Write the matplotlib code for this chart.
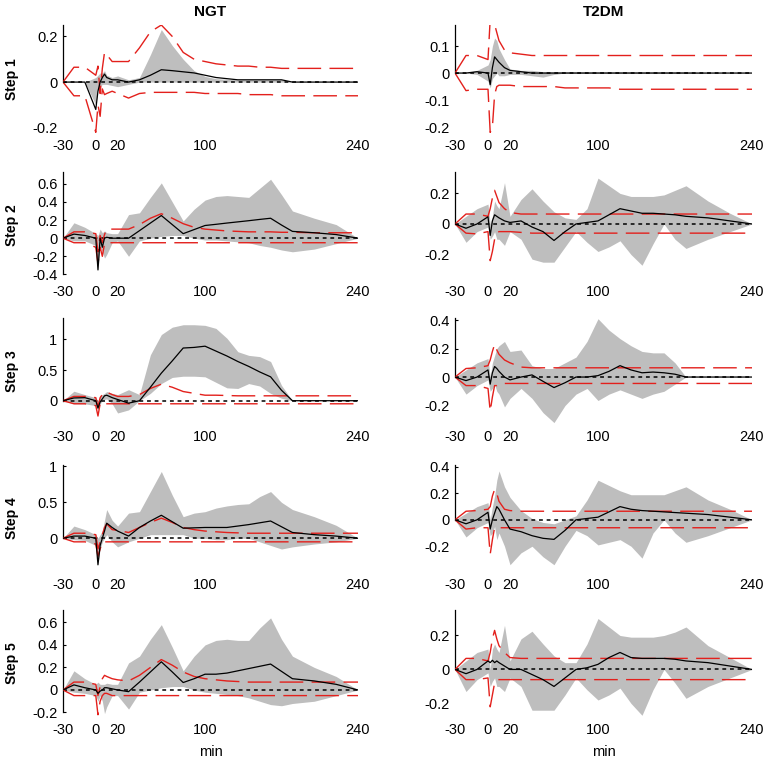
import matplotlib
matplotlib.use("Agg")
import matplotlib.pyplot as plt

# time points (min)
t = [-30, -20, -10, 0, 2, 4, 6, 8, 10, 15, 20, 30, 40, 50, 60, 70, 80, 90,
     100, 110, 120, 130, 140, 150, 160, 170, 180, 200, 220, 240]

# ---- NGT ----
ngt1_mean = [0, 0, 0, -0.12, -0.04, 0.0, 0.02, 0.035, 0.02, 0.01, 0.01, 0.0, 0.01, 0.03, 0.054, 0.05, 0.045, 0.04,
             0.03, 0.02, 0.015, 0.01, 0.01, 0.01, 0.01, 0.01, 0.0, 0.0, 0.0, 0.0]
ngt1_hi = [0, 0, 0, 0.02, 0.03, 0.04, 0.04, 0.05, 0.03, 0.02, 0.027, 0.01, 0.02, 0.12, 0.23, 0.16, 0.1, 0.05,
           0.025, 0.015, 0.012, 0.01, 0.01, 0.01, 0.01, 0.01, 0.0, 0.0, 0.0, 0.0]
ngt1_lo = [0, 0, 0, -0.1, -0.03, -0.02, -0.01, -0.01, -0.01, -0.015, -0.02, -0.01, 0.0, 0.0, 0.0, 0.0, 0.0, 0.0,
           0.0, 0.0, 0.0, 0.0, 0.0, 0.0, 0.0, 0.0, 0.0, 0.0, 0.0, 0.0]
ngt1_rhi = [0, 0.065, 0.065, 0.03, 0.07, -0.05, 0.06, 0.13, 0.12, 0.09, 0.09, 0.09, 0.15, 0.22, 0.25, 0.2, 0.13, 0.1,
            0.09, 0.08, 0.075, 0.07, 0.07, 0.065, 0.065, 0.06, 0.06, 0.06, 0.06, 0.06]
ngt1_rlo = [0, -0.06, -0.06, -0.22, -0.1, -0.15, -0.03, -0.055, -0.05, -0.04, -0.05, -0.07, -0.05, -0.045, -0.045, -0.045, -0.045, -0.045,
            -0.05, -0.05, -0.05, -0.05, -0.055, -0.055, -0.055, -0.06, -0.06, -0.06, -0.06, -0.06]

ngt2_mean = [0, 0.045, 0.03, 0.0, -0.35, 0.0, -0.1, 0.0, 0.01, 0.0, 0.0, 0.0, 0.083, 0.167, 0.25, 0.15, 0.05, 0.095,
             0.14, 0.153, 0.167, 0.18, 0.193, 0.207, 0.22, 0.145, 0.075, 0.06, 0.04, 0.0]
ngt2_hi = [0, 0.17, 0.12, 0.05, 0.03, 0.1, 0.06, 0.08, 0.06, 0.05, 0.05, 0.26, 0.28, 0.45, 0.61, 0.4, 0.19, 0.32,
           0.42, 0.46, 0.47, 0.46, 0.45, 0.55, 0.65, 0.48, 0.3, 0.22, 0.15, 0.0]
ngt2_lo = [0, -0.03, -0.03, -0.08, -0.35, -0.1, -0.15, -0.22, -0.18, -0.05, -0.03, -0.2, -0.03, 0.0, 0.02, 0.03, 0.03, 0.0,
           -0.02, -0.02, -0.03, -0.04, -0.05, -0.08, -0.1, -0.13, -0.15, -0.12, -0.06, 0.0]
ngt2_rhi = [0, 0.07, 0.07, 0.05, -0.15, 0.03, -0.05, 0.04, 0.1, 0.1, 0.1, 0.1, 0.15, 0.22, 0.27, 0.22, 0.16, 0.12,
            0.1, 0.09, 0.08, 0.075, 0.07, 0.07, 0.07, 0.065, 0.065, 0.06, 0.06, 0.06]
ngt2_rlo = [0, -0.05, -0.05, -0.1, -0.28, -0.1, -0.2, -0.06, -0.05, -0.05, -0.05, -0.05, -0.05, -0.05, -0.05, -0.05, -0.05, -0.05,
            -0.05, -0.05, -0.05, -0.05, -0.05, -0.05, -0.05, -0.05, -0.05, -0.05, -0.05, -0.05]

ngt3_mean = [0, 0.045, 0.05, 0.0, -0.12, -0.02, 0.03, 0.08, 0.09, 0.05, 0.02, -0.04, 0.0, 0.22, 0.45, 0.65, 0.86, 0.87,
             0.89, 0.81, 0.73, 0.64, 0.56, 0.47, 0.39, 0.17, 0.0, 0.0, 0.0, 0.0]
ngt3_hi = [0, 0.155, 0.1, 0.05, 0.0, 0.08, 0.1, 0.12, 0.15, 0.12, 0.1, 0.18, 0.1, 0.75, 1.08, 1.2, 1.24, 1.24,
           1.23, 1.18, 1.02, 0.8, 0.74, 0.72, 0.64, 0.25, 0.0, 0.0, 0.0, 0.0]
ngt3_lo = [0, -0.05, -0.05, -0.08, -0.15, -0.05, 0.0, 0.02, 0.03, -0.05, -0.2, -0.15, 0.0, 0.12, 0.28, 0.38, 0.4, 0.4,
           0.39, 0.3, 0.21, 0.2, 0.28, 0.24, 0.12, 0.04, 0.0, 0.0, 0.0, 0.0]
ngt3_rhi = [0, 0.07, 0.07, 0.05, -0.1, 0.05, 0.1, 0.14, 0.14, 0.1, 0.07, 0.07, 0.1, 0.2, 0.27, 0.22, 0.15, 0.12,
            0.09, 0.09, 0.085, 0.08, 0.08, 0.08, 0.08, 0.08, 0.08, 0.08, 0.08, 0.08]
ngt3_rlo = [0, -0.05, -0.05, -0.08, -0.25, -0.05, -0.02, -0.05, -0.05, -0.05, -0.05, -0.05, -0.05, -0.05, -0.05, -0.05, -0.05, -0.05,
            -0.05, -0.05, -0.05, -0.05, -0.05, -0.05, -0.05, -0.05, -0.05, -0.05, -0.05, -0.05]

ngt4_mean = [0, 0.03, 0.03, 0.0, -0.37, -0.1, 0.0, 0.1, 0.21, 0.15, 0.1, 0.03, 0.15, 0.24, 0.32, 0.23, 0.14, 0.145,
             0.15, 0.15, 0.15, 0.17, 0.19, 0.215, 0.24, 0.16, 0.08, 0.05, 0.03, 0.0]
ngt4_hi = [0, 0.17, 0.12, 0.05, 0.0, 0.05, 0.1, 0.25, 0.4, 0.25, 0.17, 0.35, 0.37, 0.65, 0.93, 0.6, 0.3, 0.35,
           0.37, 0.42, 0.45, 0.47, 0.48, 0.58, 0.65, 0.5, 0.4, 0.3, 0.18, 0.0]
ngt4_lo = [0, -0.02, -0.03, -0.1, -0.35, -0.15, -0.05, 0.0, 0.05, -0.05, -0.12, -0.05, 0.0, 0.05, 0.05, 0.05, 0.05, 0.0,
           0.0, -0.02, -0.02, 0.0, 0.0, -0.05, -0.1, -0.15, -0.12, -0.08, -0.05, 0.0]
ngt4_rhi = [0, 0.07, 0.07, 0.05, -0.15, -0.05, 0.05, 0.15, 0.2, 0.12, 0.11, 0.08, 0.15, 0.22, 0.28, 0.22, 0.15, 0.12,
            0.1, 0.09, 0.08, 0.075, 0.07, 0.07, 0.07, 0.07, 0.07, 0.07, 0.07, 0.07]
ngt4_rlo = [0, -0.05, -0.05, -0.08, -0.25, -0.15, -0.05, -0.05, -0.05, -0.05, -0.05, -0.05, -0.05, -0.05, -0.05, -0.05, -0.05, -0.05,
            -0.05, -0.05, -0.05, -0.05, -0.05, -0.05, -0.05, -0.05, -0.05, -0.05, -0.05, -0.05]

ngt5_mean = [0, 0.045, 0.02, 0.0, -0.03, -0.01, 0.0, 0.02, 0.02, 0.01, 0.0, -0.015, 0.07, 0.16, 0.25, 0.16, 0.066, 0.1,
             0.14, 0.14, 0.15, 0.17, 0.19, 0.21, 0.23, 0.165, 0.1, 0.08, 0.05, 0.0]
ngt5_hi = [0, 0.17, 0.1, 0.05, 0.07, 0.05, 0.05, 0.05, 0.06, 0.05, 0.05, 0.24, 0.3, 0.45, 0.58, 0.38, 0.17, 0.3,
           0.4, 0.44, 0.45, 0.44, 0.44, 0.55, 0.64, 0.45, 0.3, 0.2, 0.12, 0.0]
ngt5_lo = [0, -0.02, -0.03, -0.05, -0.1, -0.05, -0.1, -0.21, -0.15, -0.05, -0.05, -0.17, -0.02, 0.0, 0.02, 0.03, 0.03, 0.0,
           -0.02, -0.03, -0.04, -0.05, -0.07, -0.1, -0.13, -0.14, -0.12, -0.1, -0.05, 0.0]
ngt5_rhi = [0, 0.07, 0.07, 0.05, -0.05, 0.03, 0.1, 0.13, 0.12, 0.1, 0.09, 0.08, 0.13, 0.2, 0.27, 0.22, 0.16, 0.12,
            0.1, 0.09, 0.08, 0.075, 0.07, 0.07, 0.07, 0.07, 0.07, 0.07, 0.07, 0.07]
ngt5_rlo = [0, -0.05, -0.05, -0.05, -0.22, -0.1, -0.05, -0.03, -0.03, -0.05, -0.05, -0.05, -0.05, -0.05, -0.05, -0.05, -0.05, -0.05,
            -0.05, -0.05, -0.05, -0.05, -0.05, -0.05, -0.05, -0.05, -0.05, -0.05, -0.05, -0.05]

# ---- T2DM ----
t2dm1_mean = [0, 0.0, 0.005, 0.0, -0.043, 0.02, 0.06, 0.05, 0.04, 0.02, 0.01, 0.005, 0.0, 0.0, 0.0, 0.0, 0.0, 0.0,
              0.0, 0.0, 0.0, 0.0, 0.0, 0.0, 0.0, 0.0, 0.0, 0.0, 0.0, 0.0]
t2dm1_hi = [0, 0.0, 0.01, 0.03, 0.05, 0.1, 0.13, 0.12, 0.09, 0.05, 0.015, 0.01, 0.01, 0.005, 0.005, 0.005, 0.005, 0.005,
            0.005, 0.005, 0.005, 0.005, 0.005, 0.005, 0.005, 0.005, 0.005, 0.0, 0.0, 0.0]
t2dm1_lo = [0, 0.0, -0.005, -0.03, -0.055, -0.02, -0.01, 0.0, -0.01, -0.01, -0.005, -0.005, -0.01, -0.015, -0.005, 0.0, 0.0, 0.0,
            0.0, 0.0, 0.0, 0.0, 0.0, 0.0, 0.0, 0.0, 0.0, 0.0, 0.0, 0.0]
t2dm1_rhi = [0, 0.065, 0.065, 0.05, 0.2, 0.2, 0.18, 0.15, 0.12, 0.085, 0.075, 0.07, 0.065, 0.065, 0.065, 0.065, 0.065, 0.065,
             0.065, 0.065, 0.065, 0.065, 0.065, 0.065, 0.065, 0.065, 0.065, 0.065, 0.065, 0.065]
t2dm1_rlo = [0, -0.065, -0.06, -0.06, -0.22, -0.2, -0.08, -0.05, -0.045, -0.045, -0.045, -0.05, -0.05, -0.05, -0.05, -0.055, -0.055, -0.055,
             -0.055, -0.055, -0.06, -0.06, -0.06, -0.06, -0.06, -0.06, -0.06, -0.06, -0.06, -0.06]

t2dm2_mean = [0, -0.028, 0.0, 0.047, -0.075, 0.02, 0.06, 0.05, 0.04, 0.02, 0.01, 0.02, -0.02, -0.05, -0.108, -0.05, 0.0, 0.01,
              0.02, 0.06, 0.1, 0.085, 0.07, 0.07, 0.065, 0.06, 0.05, 0.04, 0.02, 0.0]
t2dm2_hi = [0, 0.05, 0.1, 0.13, 0.0, 0.05, 0.15, 0.12, 0.1, 0.27, 0.05, 0.16, 0.23, 0.15, 0.08, 0.04, 0.03, 0.1,
            0.3, 0.25, 0.2, 0.18, 0.18, 0.18, 0.19, 0.22, 0.25, 0.15, 0.07, 0.0]
t2dm2_lo = [0, -0.12, -0.05, -0.02, -0.1, -0.08, -0.05, -0.1, -0.1, -0.14, -0.05, -0.1, -0.23, -0.25, -0.25, -0.15, -0.05, -0.12,
            -0.18, -0.15, -0.11, -0.2, -0.27, -0.13, 0.0, -0.1, -0.16, -0.1, -0.05, 0.0]
t2dm2_rhi = [0, 0.065, 0.065, 0.05, 0.1, 0.17, 0.22, 0.18, 0.14, 0.1, 0.075, 0.065, 0.065, 0.065, 0.065, 0.065, 0.065, 0.065,
             0.065, 0.065, 0.065, 0.065, 0.065, 0.065, 0.065, 0.065, 0.065, 0.065, 0.065, 0.065]
t2dm2_rlo = [0, -0.06, -0.065, -0.05, -0.24, -0.18, -0.1, -0.06, -0.05, -0.05, -0.05, -0.055, -0.06, -0.06, -0.06, -0.06, -0.06, -0.06,
             -0.06, -0.06, -0.06, -0.06, -0.06, -0.06, -0.06, -0.06, -0.06, -0.06, -0.06, -0.06]

t2dm3_mean = [0, -0.025, 0.0, 0.05, -0.05, 0.03, 0.074, 0.06, 0.04, 0.0, -0.02, 0.0, 0.015, -0.03, -0.074, -0.04, 0.0, 0.0,
              0.01, 0.04, 0.08, 0.05, 0.03, 0.035, 0.03, 0.02, 0.0, 0.0, 0.0, 0.0]
t2dm3_hi = [0, 0.05, 0.1, 0.13, 0.0, 0.1, 0.15, 0.2, 0.22, 0.25, 0.18, 0.19, 0.08, 0.06, 0.06, 0.1, 0.14, 0.25,
            0.41, 0.33, 0.27, 0.22, 0.18, 0.17, 0.17, 0.1, 0.0, 0.0, 0.0, 0.0]
t2dm3_lo = [0, -0.12, -0.06, -0.02, -0.1, -0.08, -0.05, -0.1, -0.12, -0.21, -0.15, -0.08, -0.15, -0.25, -0.32, -0.2, -0.12, -0.08,
            -0.165, -0.12, -0.09, -0.12, -0.15, -0.12, -0.1, -0.05, 0.0, 0.0, 0.0, 0.0]
t2dm3_rhi = [0, 0.06, 0.065, 0.08, 0.12, 0.18, 0.23, 0.19, 0.16, 0.12, 0.1, 0.07, 0.065, 0.065, 0.065, 0.065, 0.065, 0.065,
             0.065, 0.065, 0.065, 0.065, 0.065, 0.065, 0.065, 0.065, 0.065, 0.065, 0.065, 0.065]
t2dm3_rlo = [0, -0.06, -0.06, -0.08, -0.24, -0.14, -0.06, -0.06, -0.05, -0.045, -0.045, -0.045, -0.045, -0.045, -0.045, -0.045, -0.045, -0.045,
             -0.045, -0.045, -0.045, -0.045, -0.045, -0.045, -0.045, -0.045, -0.045, -0.045, -0.045, -0.045]

t2dm4_mean = [0, -0.03, 0.0, 0.057, -0.07, 0.0, 0.05, 0.1, 0.08, 0.0, -0.07, -0.09, -0.12, -0.14, -0.148, -0.08, 0.0, 0.01,
              0.02, 0.06, 0.1, 0.08, 0.07, 0.065, 0.06, 0.055, 0.05, 0.04, 0.02, 0.0]
t2dm4_hi = [0, 0.05, 0.1, 0.13, 0.0, 0.1, 0.18, 0.3, 0.37, 0.25, 0.17, 0.07, 0.01, -0.02, -0.03, 0.0, 0.03, 0.15,
            0.3, 0.26, 0.22, 0.19, 0.19, 0.19, 0.19, 0.22, 0.25, 0.15, 0.08, 0.0]
t2dm4_lo = [0, -0.13, -0.06, -0.02, -0.12, -0.1, -0.05, -0.15, -0.1, -0.2, -0.34, -0.25, -0.2, -0.28, -0.34, -0.2, -0.08, -0.12,
            -0.19, -0.17, -0.15, -0.2, -0.29, -0.1, 0.0, -0.1, -0.17, -0.12, -0.06, 0.0]
t2dm4_rhi = [0, 0.065, 0.07, 0.08, 0.1, 0.18, 0.23, 0.2, 0.14, 0.08, 0.07, 0.065, 0.065, 0.065, 0.065, 0.065, 0.065, 0.065,
             0.065, 0.065, 0.065, 0.065, 0.065, 0.065, 0.065, 0.065, 0.065, 0.065, 0.065, 0.065]
t2dm4_rlo = [0, -0.07, -0.06, -0.06, -0.26, -0.15, -0.06, -0.06, -0.06, -0.06, -0.06, -0.06, -0.06, -0.06, -0.06, -0.06, -0.06, -0.06,
             -0.06, -0.06, -0.06, -0.06, -0.06, -0.06, -0.06, -0.06, -0.06, -0.06, -0.06, -0.06]

t2dm5_mean = [0, -0.025, 0.0, 0.05, 0.04, 0.054, 0.04, 0.05, 0.04, 0.02, 0.0, 0.0, -0.03, -0.06, -0.1, -0.05, 0.0, 0.01,
              0.03, 0.07, 0.1, 0.07, 0.065, 0.065, 0.065, 0.06, 0.05, 0.04, 0.02, 0.0]
t2dm5_hi = [0, 0.05, 0.1, 0.12, 0.0, 0.12, 0.15, 0.12, 0.1, 0.26, 0.05, 0.18, 0.225, 0.15, 0.08, 0.04, 0.04, 0.15,
            0.3, 0.25, 0.2, 0.19, 0.19, 0.19, 0.2, 0.22, 0.25, 0.14, 0.07, 0.0]
t2dm5_lo = [0, -0.13, -0.06, -0.02, -0.1, -0.07, -0.05, -0.1, -0.1, -0.13, -0.05, -0.1, -0.24, -0.24, -0.24, -0.15, -0.05, -0.12,
            -0.18, -0.15, -0.11, -0.2, -0.27, -0.12, 0.0, -0.08, -0.17, -0.1, -0.05, 0.0]
t2dm5_rhi = [0, 0.065, 0.065, 0.05, 0.1, 0.18, 0.23, 0.18, 0.14, 0.1, 0.07, 0.065, 0.065, 0.065, 0.065, 0.065, 0.065, 0.065,
             0.065, 0.065, 0.065, 0.065, 0.065, 0.065, 0.065, 0.065, 0.065, 0.065, 0.065, 0.065]
t2dm5_rlo = [0, -0.06, -0.06, -0.05, -0.22, -0.15, -0.08, -0.06, -0.06, -0.06, -0.06, -0.06, -0.06, -0.06, -0.06, -0.06, -0.06, -0.06,
             -0.06, -0.06, -0.06, -0.06, -0.06, -0.06, -0.06, -0.06, -0.06, -0.06, -0.06, -0.06]

col_titles = ["NGT", "T2DM"]
row_labels = ["Step 1", "Step 2", "Step 3", "Step 4", "Step 5"]
xticks = [-30, 0, 20, 100, 240]

# y limits / ticks per panel (row, col)
ylims = [[(-0.223, 0.25), (-0.222, 0.178)],
         [(-0.45, 0.73), (-0.36, 0.34)],
         [(-0.38, 1.35), (-0.33, 0.415)],
         [(-0.47, 1.02), (-0.395, 0.415)],
         [(-0.24, 0.71), (-0.28, 0.35)]]
yticks = [[[-0.2, 0, 0.2], [-0.2, -0.1, 0, 0.1]],
          [[-0.4, -0.2, 0, 0.2, 0.4, 0.6], [-0.2, 0, 0.2]],
          [[0, 0.5, 1], [-0.2, 0, 0.2, 0.4]],
          [[0, 0.5, 1], [-0.2, 0, 0.2, 0.4]],
          [[-0.2, 0, 0.2, 0.4, 0.6], [-0.2, 0, 0.2]]]
# where the y spine stops at the bottom
spine_lo = [[0, 0], [-0.4, 0], [0, 0], [0, 0], [-0.2, 0]]

panels = [
    [(ngt1_mean, ngt1_lo, ngt1_hi, ngt1_rlo, ngt1_rhi), (t2dm1_mean, t2dm1_lo, t2dm1_hi, t2dm1_rlo, t2dm1_rhi)],
    [(ngt2_mean, ngt2_lo, ngt2_hi, ngt2_rlo, ngt2_rhi), (t2dm2_mean, t2dm2_lo, t2dm2_hi, t2dm2_rlo, t2dm2_rhi)],
    [(ngt3_mean, ngt3_lo, ngt3_hi, ngt3_rlo, ngt3_rhi), (t2dm3_mean, t2dm3_lo, t2dm3_hi, t2dm3_rlo, t2dm3_rhi)],
    [(ngt4_mean, ngt4_lo, ngt4_hi, ngt4_rlo, ngt4_rhi), (t2dm4_mean, t2dm4_lo, t2dm4_hi, t2dm4_rlo, t2dm4_rhi)],
    [(ngt5_mean, ngt5_lo, ngt5_hi, ngt5_rlo, ngt5_rhi), (t2dm5_mean, t2dm5_lo, t2dm5_hi, t2dm5_rlo, t2dm5_rhi)],
]

plt.rcParams["font.family"] = ["Liberation Sans", "DejaVu Sans"]

W, H = 767, 759
fig = plt.figure(figsize=(W / 100, H / 100), dpi=100)

col_x = [(63, 295), (455, 297)]
row_y = [(25, 133), (172, 279), (318, 424), (465, 572), (610, 717)]

GRAY = "#bebebe"
RED = "#e3201c"


def fmt(v):
    return "%g" % v


for r in range(5):
    for c in range(2):
        x0, w = col_x[c]
        top, bot = row_y[r]
        ax = fig.add_axes([x0 / W, 1 - bot / H, w / W, (bot - top) / H])
        mean, lo, hi, rlo, rhi = panels[r][c]

        ax.fill_between(t, lo, hi, color=GRAY, lw=0, zorder=1)
        ax.plot([-30, 240], [0, 0], color="black", lw=1.1, dashes=(2.5, 2.5), zorder=2)
        ax.plot(t, rhi, color=RED, lw=1.0, dashes=(17, 6), zorder=3)
        ax.plot(t, rlo, color=RED, lw=1.0, dashes=(17, 6), zorder=3)
        ax.plot(t, mean, color="black", lw=0.9, zorder=4)

        ax.set_xlim(-30, 240)
        ax.set_ylim(*ylims[r][c])
        ax.set_xticks(xticks)
        ax.set_xticklabels([fmt(v) for v in xticks])
        ax.set_yticks(yticks[r][c])
        ax.set_yticklabels([fmt(v) for v in yticks[r][c]])
        ax.tick_params(axis="x", length=0, pad=4, labelsize=10.5)
        ax.tick_params(axis="y", direction="in", length=2.5, width=0.8, pad=4, labelsize=10.5)

        for s in ["top", "right", "bottom"]:
            ax.spines[s].set_visible(False)
        ax.spines["left"].set_linewidth(0.9)
        ax.spines["left"].set_bounds(spine_lo[r][c], ylims[r][c][1])
        for tk in ax.yaxis.get_major_ticks():
            if tk.get_loc() < spine_lo[r][c] - 1e-9:
                tk.tick1line.set_visible(False)
        ax.patch.set_visible(False)

        if c == 0:
            fig.text(12 / W, 1 - (top + bot) / 2 / H, row_labels[r], rotation=90,
                     ha="center", va="center", fontsize=10, fontweight="bold")
        if r == 0:
            fig.text((x0 + w / 2) / W, 1 - 12 / H, col_titles[c],
                     ha="center", va="center", fontsize=11, fontweight="bold")
        if r == 4:
            fig.text((x0 + w / 2) / W, 1 - 752 / H, "min", ha="center", va="center", fontsize=10.5)

fig.savefig("out.png", dpi=100)
